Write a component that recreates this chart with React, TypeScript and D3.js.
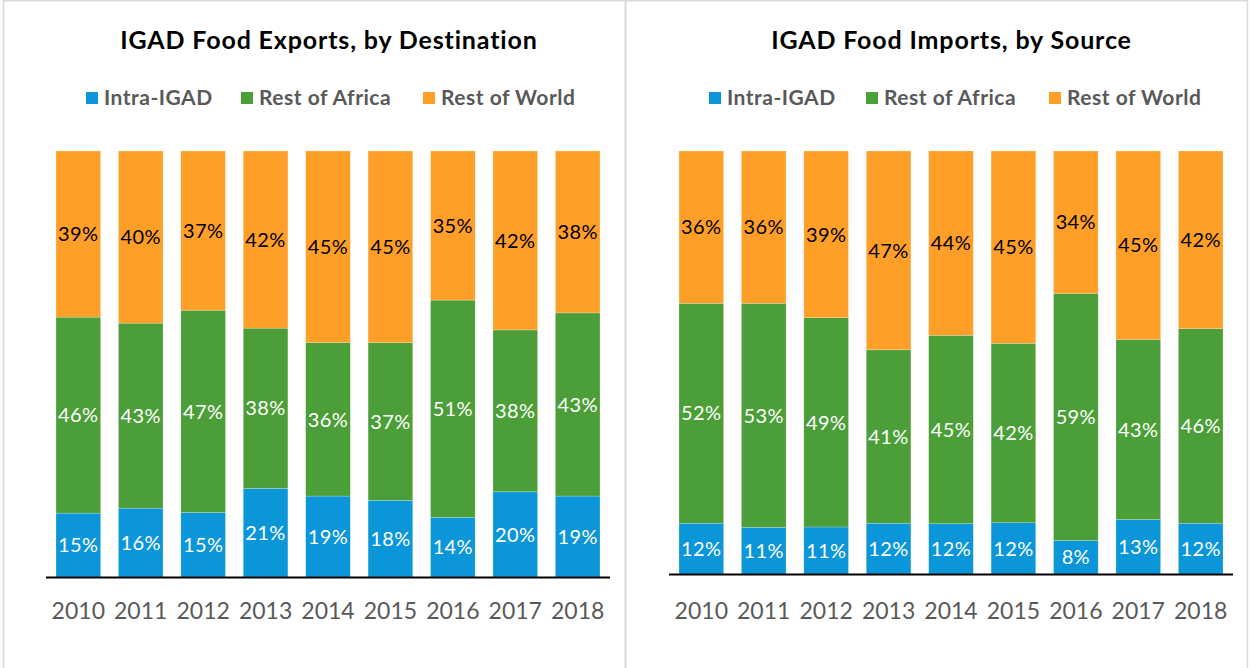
import { useEffect, useRef } from 'react';
import * as d3 from 'd3';

const years = ['2010', '2011', '2012', '2013', '2014', '2015', '2016', '2017', '2018'];
const seriesNames = ['Intra-IGAD', 'Rest of Africa', 'Rest of World'];
const seriesColors = ['#0B96D9', '#4C9F38', '#FF9F27'];
const labelColors = ['#ffffff', '#ffffff', '#000000'];

const exportsIntra = [15, 16, 15, 21, 19, 18, 14, 20, 19];
const exportsAfrica = [46, 43, 47, 38, 36, 37, 51, 38, 43];
const exportsWorld = [39, 40, 37, 42, 45, 45, 35, 42, 38];

const importsIntra = [12, 11, 11, 12, 12, 12, 8, 13, 12];
const importsAfrica = [52, 53, 49, 41, 45, 42, 59, 43, 46];
const importsWorld = [36, 36, 39, 47, 44, 45, 34, 45, 42];

const FONT = 'Lato, "Open Sans", sans-serif';

interface PanelCfg {
  title: string;
  series: number[][];
  x0: number; // panel left
  x1: number; // panel right
  axisL: number;
  axisR: number;
  baseline: number;
  legendX: number[];
}

const panels: PanelCfg[] = [
  {
    title: 'IGAD Food Exports, by Destination',
    series: [exportsIntra, exportsAfrica, exportsWorld],
    x0: 3, x1: 625, axisL: 46, axisR: 610, baseline: 577,
    legendX: [86, 241, 423],
  },
  {
    title: 'IGAD Food Imports, by Source',
    series: [importsIntra, importsAfrica, importsWorld],
    x0: 626, x1: 1247, axisL: 669, axisR: 1233, baseline: 574,
    legendX: [709, 866, 1049],
  },
];

export default function App() {
  const svgRef = useRef<SVGSVGElement>(null);

  useEffect(() => {
    if (!svgRef.current) return;
    const svg = d3.select(svgRef.current);
    svg.selectAll('*').remove();

    // panel frames
    svg.append('line').attr('x1', 3.5).attr('x2', 3.5).attr('y1', 0).attr('y2', 668)
      .attr('stroke', '#d9d9d9').attr('stroke-width', 1.5);
    svg.append('line').attr('x1', 625.5).attr('x2', 625.5).attr('y1', 0).attr('y2', 668)
      .attr('stroke', '#d9d9d9').attr('stroke-width', 2);
    svg.append('line').attr('x1', 1247.5).attr('x2', 1247.5).attr('y1', 0).attr('y2', 668)
      .attr('stroke', '#d9d9d9').attr('stroke-width', 1.5);
    svg.append('line').attr('x1', 3).attr('x2', 1248).attr('y1', 0.75).attr('y2', 0.75)
      .attr('stroke', '#d9d9d9').attr('stroke-width', 1.5);

    panels.forEach(p => {
      const g = svg.append('g');
      const cx = (p.x0 + p.x1) / 2;

      g.append('text')
        .text(p.title)
        .attr('x', cx + 15)
        .attr('y', 49)
        .attr('text-anchor', 'middle')
        .attr('font-family', FONT)
        .attr('font-weight', 700)
        .attr('font-size', 25)
        .attr('letter-spacing', 0.85)
        .attr('fill', '#000');

      // legend
      seriesNames.forEach((name, i) => {
        const lg = g.append('g').attr('transform', `translate(${p.legendX[i]}, 97)`);
        lg.append('rect').attr('x', 0).attr('y', -5).attr('width', 12).attr('height', 12)
          .attr('fill', seriesColors[i]);
        lg.append('text').text(name)
          .attr('x', 18).attr('y', 8)
          .attr('font-family', FONT)
          .attr('font-weight', 700)
          .attr('font-size', 21)
          .attr('letter-spacing', 0.5)
          .attr('fill', '#595959');
      });

      const x = d3.scaleBand()
        .domain(years)
        .range([p.axisL, p.axisR])
        .paddingInner(0.285)
        .paddingOuter(0.16);

      const y = d3.scaleLinear().domain([0, 1]).range([p.baseline, 151]);

      const rows = years.map((yr, j) => {
        const vals = p.series.map(s => s[j]);
        const total = d3.sum(vals);
        const row: any = { year: yr };
        vals.forEach((v, i) => { row['s' + i] = v / total; });
        return row;
      });
      const stacked = d3.stack<any>().keys(['s0', 's1', 's2'])(rows);

      stacked.forEach((layer, i) => {
        const lg = g.append('g');
        lg.selectAll('rect')
          .data(layer)
          .enter().append('rect')
          .attr('x', d => x(d.data.year)!)
          .attr('width', x.bandwidth())
          .attr('y', d => y(d[1]))
          .attr('height', d => y(d[0]) - y(d[1]))
          .attr('fill', seriesColors[i])
          .attr('stroke', 'rgba(255,255,255,0.35)')
          .attr('stroke-width', 0.6);

        lg.selectAll('text')
          .data(layer)
          .enter().append('text')
          .text((d, j) => `${p.series[i][j]}%`)
          .attr('x', d => x(d.data.year)! + x.bandwidth() / 2)
          .attr('y', d => (y(d[0]) + y(d[1])) / 2)
          .attr('dy', '0.36em')
          .attr('text-anchor', 'middle')
          .attr('font-family', FONT)
          .attr('font-size', 20)
          .attr('letter-spacing', 0.4)
          .attr('fill', labelColors[i]);
      });

      // axis line
      g.append('line')
        .attr('x1', p.axisL).attr('x2', p.axisR)
        .attr('y1', p.baseline + 0.5).attr('y2', p.baseline + 0.5)
        .attr('stroke', '#000').attr('stroke-width', 2);

      g.selectAll('.year')
        .data(years)
        .enter().append('text')
        .attr('class', 'year')
        .text(d => d)
        .attr('x', d => x(d)! + x.bandwidth() / 2)
        .attr('y', 619)
        .attr('text-anchor', 'middle')
        .attr('font-family', FONT)
        .attr('font-size', 23)
        .attr('fill', '#595959');
    });
  }, []);

  return (
    <svg
      ref={svgRef}
      width={1250}
      height={668}
      style={{ position: 'absolute', left: 0, top: 0, background: '#fff' }}
    />
  );
}
